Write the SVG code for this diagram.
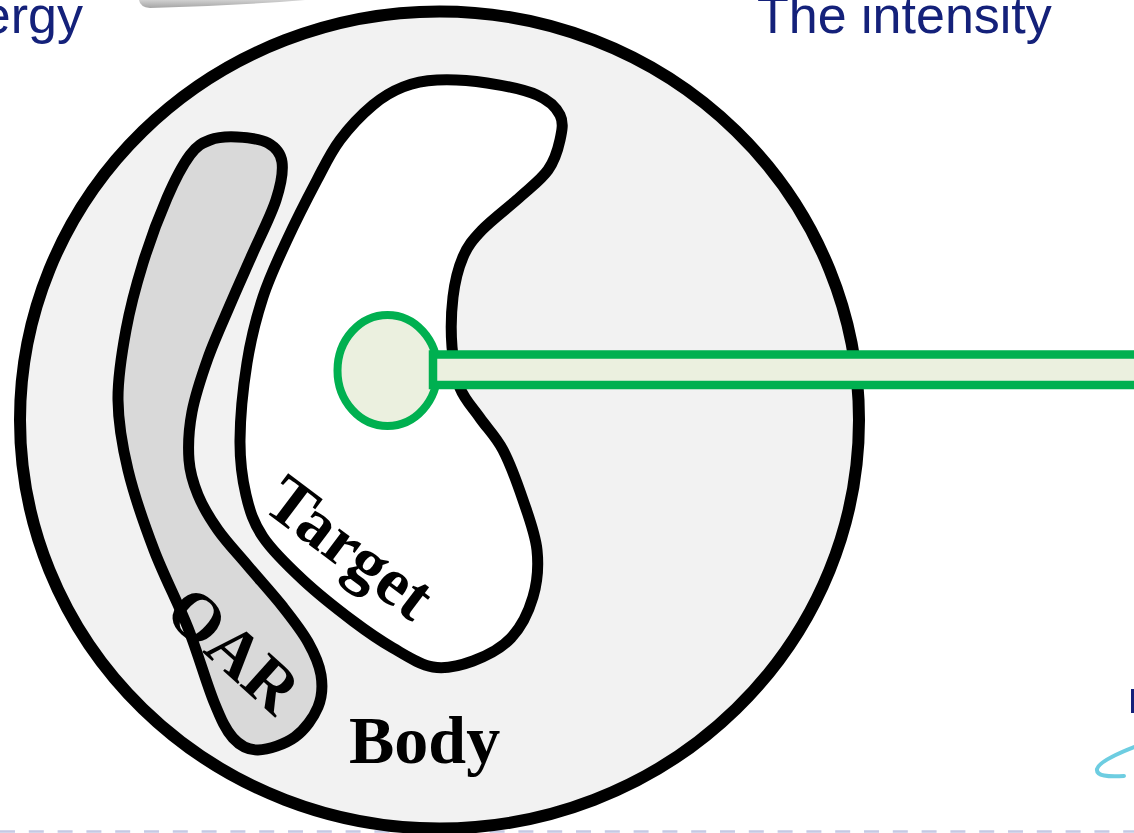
<svg xmlns="http://www.w3.org/2000/svg" width="1134" height="833" viewBox="0 0 1134 833">
<defs>
<linearGradient id="grayTop" x1="0" y1="0" x2="0" y2="1">
<stop offset="0" stop-color="#d0d0d0"/>
<stop offset="1" stop-color="#a4a4a4"/>
</linearGradient>
</defs>
<style>
.outline{stroke:#000;stroke-width:11;stroke-linejoin:round}
.lbl{font-family:"Liberation Serif","Times New Roman",serif;font-weight:bold;font-size:68px;fill:#000}
.hdr{font-family:"Liberation Sans",Arial,sans-serif;font-size:52px;fill:#14217a}
.green{stroke:#00b050;fill:#ebf0df}
</style>
<rect width="1134" height="833" fill="#fff"/>
<line x1="0" y1="831.5" x2="1134" y2="831.5" stroke="#c5c9e4" stroke-width="2.5" stroke-dasharray="15 13.8"/>
<path d="M139,0 Q140,7 150,8 Q230,6 305,0 Z" fill="url(#grayTop)"/>
<text class="hdr" x="83" y="33" text-anchor="end">ergy</text>
<text class="hdr" x="757" y="33">The intensity</text>
<rect x="1131" y="689" width="4" height="24" fill="#14217a"/>
<path d="M1134,747 C1116,754 1099,762 1097,769 C1096,776 1108,777 1124,776" fill="none" stroke="#6dcde1" stroke-width="4" stroke-linecap="round"/>
<g id="body">
<ellipse cx="439.5" cy="420" rx="419.5" ry="408.5" fill="#f2f2f2" stroke="#000" stroke-width="12"/>
<text class="lbl" x="349" y="763">Body</text>
</g>
<g id="oar">
<path class="outline" fill="#d9d9d9" d="M237,137 C246.7,137.5 260.5,138.8 268,143 C275.5,147.2 280.7,152.5 282,162 C283.3,171.5 281,184.5 276,200 C271,215.5 259.7,237.5 252,255 C244.3,272.5 237.3,287.8 230,305 C222.7,322.2 214.3,340.2 208,358 C201.7,375.8 195.2,395 192,412 C188.8,429 188,446.2 189,460 C190,473.8 193.2,483.3 198,495 C202.8,506.7 209.7,518.2 218,530 C226.3,541.8 237.2,553.2 248,566 C258.8,578.8 273,594.3 283,607 C293,619.7 301.7,630.7 308,642 C314.3,653.3 319.3,664.2 321,675 C322.7,685.8 322.3,696.7 318,707 C313.7,717.3 305,729.8 295,737 C285,744.2 268.3,749.8 258,750 C247.7,750.2 240.3,746 233,738 C225.7,730 221.5,720.3 214,702 C206.5,683.7 198,653.3 188,628 C178,602.7 164,576.3 154,550 C144,523.7 134,495 128,470 C122,445 118.3,423.3 118,400 C117.7,376.7 121.8,352.8 126,330 C130.2,307.2 136.2,285 143,263 C149.8,241 159.2,216 167,198 C174.8,180 182.8,164.7 190,155 C197.2,145.3 202.2,143 210,140 C217.8,137 227.3,136.5 237,137 Z"/>
<text class="lbl" text-anchor="middle" transform="translate(218.5,666.7) rotate(42)">OAR</text>
</g>
<g id="target">
<path class="outline" fill="#fff" d="M437,80 C451,79.3 470.3,80.5 487,83 C503.7,85.5 524.8,89.7 537,95 C549.2,100.3 556.2,107.5 560,115 C563.8,122.5 562,130.8 560,140 C558,149.2 554.7,160.5 548,170 C541.3,179.5 531,187 520,197 C509,207 491.5,220 482,230 C472.5,240 467.8,245.8 463,257 C458.2,268.2 454.8,282 453,297 C451.2,312 450.8,331.8 452,347 C453.2,362.2 455.3,376.2 460,388 C464.7,399.8 472.8,407.7 480,418 C487.2,428.3 495.8,436.3 503,450 C510.2,463.7 517.3,483.3 523,500 C528.7,516.7 535.3,533.8 537,550 C538.7,566.2 537.3,582.3 533,597 C528.7,611.7 521,627.3 511,638 C501,648.7 486,656.2 473,661 C460,665.8 446.3,669.2 433,667 C419.7,664.8 406.3,655.7 393,648 C379.7,640.3 368,632.3 353,621 C338,609.7 318,594 303,580 C288,566 272.5,551.2 263,537 C253.5,522.8 249.8,511.2 246,495 C242.2,478.8 239.8,462 240,440 C240.2,418 243.2,386.8 247,363 C250.8,339.2 256.3,317.5 263,297 C269.7,276.5 278,259.5 287,240 C296,220.5 308.2,196.7 317,180 C325.8,163.3 330.7,152.5 340,140 C349.3,127.5 362.5,113.8 373,105 C383.5,96.2 392.3,91.2 403,87 C413.7,82.8 423,80.7 437,80 Z"/>
<text class="lbl" text-anchor="middle" transform="translate(336.5,565.4) rotate(37)">Target</text>
</g>
<g id="beam-source">
<ellipse class="green" cx="387.5" cy="370.5" rx="50" ry="55.5" stroke-width="8"/>
</g>
<g id="connectors">
<rect class="green" x="433" y="354.5" width="720" height="30.5" stroke-width="8.5"/>
</g>
</svg>
